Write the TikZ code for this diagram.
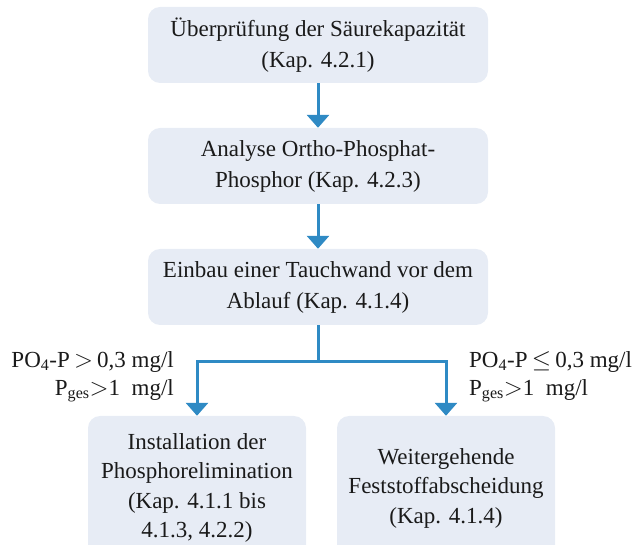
\documentclass[tikz,border=0pt]{standalone}
\usepackage{fontspec}
\setmainfont{Liberation Serif}
\usetikzlibrary{arrows.meta,positioning}
\definecolor{BoxFill}{HTML}{E7ECF5}
\definecolor{FlowBlue}{HTML}{2F8AC4}
\definecolor{Ink}{HTML}{1A1A1A}

\begin{document}
\begin{tikzpicture}[x=1pt,y=-1pt,font=\fontsize{23}{31}\selectfont,text=Ink,
          stepbox/.style={fill=BoxFill,rounded corners=12pt,align=center,
            minimum width=340pt,minimum height=76pt,inner sep=0pt},
          leafbox/.style={stepbox,minimum width=218pt,minimum height=144pt,
            font=\fontsize{23}{29.5}\selectfont},
          flow/.style={-{Triangle[width=22pt,length=13pt]},line width=3pt,FlowBlue},
          cond/.style={align=left,inner sep=0pt,font=\fontsize{23}{28}\selectfont}]
        \useasboundingbox (0,0) rectangle (635,545);

        \node[stepbox] (pruef) at (318,45)
          {Überprüfung der Säurekapazität\\(Kap. 4.2.1)};
        \node[stepbox] (ortho) at (318,166)
          {Analyse Ortho-Phosphat-\\Phosphor (Kap. 4.2.3)};
        \node[stepbox] (tauch) at (318,287)
          {Einbau einer Tauchwand vor dem\\Ablauf (Kap. 4.1.4)};

        \node[leafbox] (pelim) at (197,488)
          {Installation der\\Phosphorelimination\\(Kap. 4.1.1 bis\\4.1.3, 4.2.2)};
        \node[leafbox] (fest) at (446,488)
          {Weitergehende\\Feststoffabscheidung\\(Kap. 4.1.4)};

        \draw[flow] (pruef) -- (ortho);
        \draw[flow] (ortho) -- (tauch);

        % branch below the third step
        \coordinate (split) at (318,362);
        \draw[FlowBlue,line width=3pt] (tauch) -- (split);
        \draw[flow] (split) -| (pelim.north);
        \draw[flow] (split) -| (fest.north);

        \node[cond,align=right,anchor=north east] (condhigh) at (174,351)
          {PO\textsubscript{4}-P$\,>\,$0,3 mg/l\\P\textsubscript{ges}$>$1~ mg/l};
        \node[cond,anchor=north west] (condlow) at (469,351)
          {PO\textsubscript{4}-P$\,\leq\,$0,3 mg/l\\P\textsubscript{ges}$>$1~ mg/l};
      \end{tikzpicture}
\end{document}
